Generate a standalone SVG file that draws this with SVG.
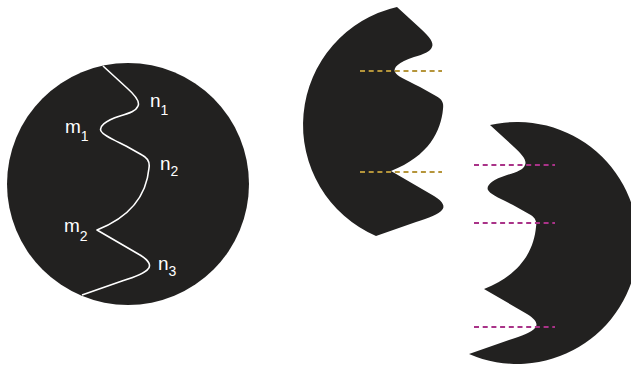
<svg xmlns="http://www.w3.org/2000/svg" width="631" height="367" viewBox="0 0 631 367">
<style>
.dark{fill:#222120}
.cut{fill:none;stroke:#ffffff;stroke-width:1.6;stroke-linejoin:round}
.lbl{font-family:"Liberation Sans",Arial,sans-serif;font-size:19px;fill:#ffffff}
.sub{font-size:14px}
.gold{stroke:#b5953a;stroke-width:2.2;stroke-dasharray:5 3.7;fill:none}
.pink{stroke:#a93388;stroke-width:2.2;stroke-dasharray:5 3.7;fill:none}
</style>
<defs>
<path id="curve" d="M103,66 L127,88 C136,96 140,102 138,106 C136,111 130,113 120,116 C104,121 99,127 101,131 C103,135 110,138 126,146 L142,155 C148,158 150,162 149,168 C147,190 135,215 97,230 L140,255 C150,261 151,266 148,269 C145,273 135,277 122,281 L82,295"/>
</defs>
<rect width="631" height="367" fill="#ffffff"/>
<g id="whole-circle">
<circle class="dark" cx="128" cy="184" r="121"/>
<use href="#curve" class="cut"/>
<text class="lbl" x="150" y="107">n<tspan class="sub" dy="8">1</tspan></text>
<text class="lbl" x="65" y="133">m<tspan class="sub" dy="8">1</tspan></text>
<text class="lbl" x="160" y="170">n<tspan class="sub" dy="6">2</tspan></text>
<text class="lbl" x="64" y="232">m<tspan class="sub" dy="9">2</tspan></text>
<text class="lbl" x="158" y="270">n<tspan class="sub" dy="6">3</tspan></text>
</g>
<g id="left-piece" transform="translate(294,-59)">
<path class="dark" d="M103,66 L127,88 C136,96 140,102 138,106 C136,111 130,113 120,116 C104,121 99,127 101,131 C103,135 110,138 126,146 L142,155 C148,158 150,162 149,168 C147,190 135,215 97,230 L140,255 C150,261 151,266 148,269 C145,273 135,277 122,281 L82,295 A121,121 0 0 1 103,66 Z"/>
</g>
<g id="right-piece" transform="translate(387,59)">
<path class="dark" d="M103,66 L127,88 C136,96 140,102 138,106 C136,111 130,113 120,116 C104,121 99,127 101,131 C103,135 110,138 126,146 L142,155 C148,158 150,162 149,168 C147,190 135,215 97,230 L140,255 C150,261 151,266 148,269 C145,273 135,277 122,281 L82,295 A121,121 0 1 0 103,66 Z"/>
</g>
<g id="connectors">
<line class="gold" x1="360" y1="71" x2="442" y2="71"/>
<line class="gold" x1="360" y1="172" x2="442" y2="172"/>
<line class="pink" x1="474" y1="165" x2="555" y2="165"/>
<line class="pink" x1="474" y1="223" x2="555" y2="223"/>
<line class="pink" x1="474" y1="327" x2="555" y2="327"/>
</g>
</svg>
